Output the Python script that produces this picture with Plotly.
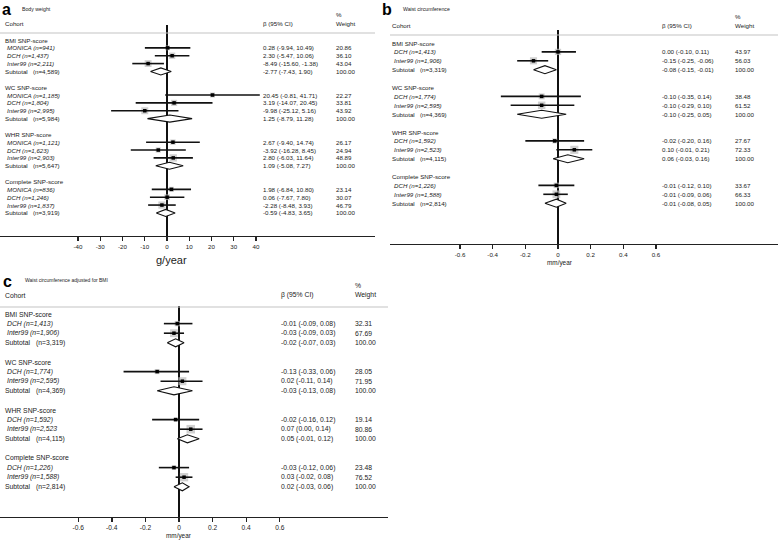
import math
import plotly.graph_objects as go

W, H = 778, 542

# ---------------- data ----------------
groups = ["BMI SNP-score", "WC SNP-score", "WHR SNP-score", "Complete SNP-score"]

# Panel a: Body weight (g/year)
a_cohorts = [["MONICA (n=941)", "DCH (n=1,437)", "Inter99 (n=2,211)"],
             ["MONICA (n=1,185)", "DCH (n=1,804)", "Inter99 (n=2,995)"],
             ["MONICA (n=1,121)", "DCH (n=1,623)", "Inter99 (n=2,903)"],
             ["MONICA (n=836)", "DCH (n=1,246)", "Inter99 (n=1,837)"]]
a_est = [[0.28, 2.30, -8.49], [20.45, 3.19, -9.98], [2.67, -3.92, 2.80], [1.98, 0.06, -2.28]]
a_lo = [[-9.94, -5.47, -15.60], [-0.81, -14.07, -25.12], [-9.40, -16.28, -6.03], [-6.84, -7.67, -8.48]]
a_hi = [[10.49, 10.06, -1.38], [41.71, 20.45, 5.16], [14.74, 8.45, 11.64], [10.80, 7.80, 3.93]]
a_wt = [[20.86, 36.10, 43.04], [22.27, 33.81, 43.92], [26.17, 24.94, 48.89], [23.14, 30.07, 46.79]]
a_sub_n = ["(n=4,589)", "(n=5,984)", "(n=5,647)", "(n=3,919)"]
a_sub_est = [-2.77, 1.25, 1.09, -0.59]
a_sub_lo = [-7.43, -8.79, -5.08, -4.83]
a_sub_hi = [1.90, 11.28, 7.27, 3.65]
a_ticks = [-40, -30, -20, -10, 0, 10, 20, 30, 40]
a_ticktext = ["-40", "-30", "-20", "-10", "0", "10", "20", "30", "40"]

# Panel b: Waist circumference (mm/year)
b_cohorts = [["DCH (n=1,413)", "Inter99 (n=1,906)"],
             ["DCH (n=1,774)", "Inter99 (n=2,595)"],
             ["DCH (n=1,592)", "Inter99 (n=2,523)"],
             ["DCH (n=1,226)", "Inter99 (n=1,588)"]]
b_est = [[0.00, -0.15], [-0.10, -0.10], [-0.02, 0.10], [-0.01, -0.01]]
b_lo = [[-0.10, -0.25], [-0.35, -0.29], [-0.20, -0.01], [-0.12, -0.09]]
b_hi = [[0.11, -0.06], [0.14, 0.10], [0.16, 0.21], [0.10, 0.06]]
b_wt = [[43.97, 56.03], [38.48, 61.52], [27.67, 72.33], [33.67, 66.33]]
b_sub_n = ["(n=3,319)", "(n=4,369)", "(n=4,115)", "(n=2,814)"]
b_sub_est = [-0.08, -0.10, 0.06, -0.01]
b_sub_lo = [-0.15, -0.25, -0.03, -0.08]
b_sub_hi = [-0.01, 0.05, 0.16, 0.05]

# Panel c: Waist circumference adjusted for BMI (mm/year)
c_cohorts = [["DCH (n=1,413)", "Inter99 (n=1,906)"],
             ["DCH (n=1,774)", "Inter99 (n=2,595)"],
             ["DCH (n=1,592)", "Inter99 (n=2,523"],
             ["DCH (n=1,226)", "Inter99 (n=1,588)"]]
c_est = [[-0.01, -0.03], [-0.13, 0.02], [-0.02, 0.07], [-0.03, 0.03]]
c_lo = [[-0.09, -0.09], [-0.33, -0.11], [-0.16, 0.00], [-0.12, -0.02]]
c_hi = [[0.08, 0.03], [0.06, 0.14], [0.12, 0.14], [0.06, 0.08]]
c_wt = [[32.31, 67.69], [28.05, 71.95], [19.14, 80.86], [23.48, 76.52]]
c_sub_n = ["(n=3,319)", "(n=4,369)", "(n=4,115)", "(n=2,814)"]
c_sub_est = [-0.02, -0.03, 0.05, 0.02]
c_sub_lo = [-0.07, -0.13, -0.01, -0.03]
c_sub_hi = [0.03, 0.08, 0.12, 0.06]
mm_ticks = [-0.6, -0.4, -0.2, 0, 0.2, 0.4, 0.6]
mm_ticktext = ["-0.6", "-0.4", "-0.2", "0", "0.2", "0.4", "0.6"]

FONT = "Liberation Sans, Arial, sans-serif"
TXT = "#222222"

fig = go.Figure()
annotations = []
shapes = []


def P(x, y):
    return x / W, 1 - y / H


def add_text(text, x, y, size=7, anchor="left", yref="paper", bold=False, color=TXT):
    if bold:
        text = "<b>" + text + "</b>"
    if yref == "paper":
        xx, yy = P(x, y)
    else:
        xx, yy = x / W, y
    annotations.append(dict(text=text, x=xx, y=yy, xref="paper", yref=yref,
                            xanchor=anchor, yanchor="middle", showarrow=False,
                            borderpad=0, borderwidth=0,
                            font=dict(family=FONT, size=size, color=color)))


def panel(idx, g):
    sfx = "" if idx == 1 else str(idx)
    xname, yname = "x" + sfx, "y" + sfx
    rows_head, rows_c, rows_sub = [], [], []
    r = 0
    for cl in g["cohorts"]:
        rows_head.append(r)
        rows_c.append([r + 1 + k for k in range(len(cl))])
        rows_sub.append(r + len(cl) + 1)
        r += len(cl) + 3

    est = [v for grp in g["est"] for v in grp]
    lo = [v for grp in g["lo"] for v in grp]
    hi = [v for grp in g["hi"] for v in grp]
    wt = [v for grp in g["wt"] for v in grp]
    ry = [v for grp in rows_c for v in grp]

    fig.add_trace(go.Scatter(x=est, y=ry, mode="markers", xaxis=xname, yaxis=yname,
                             marker=dict(symbol="square", color="#bcbcbc",
                                         size=[g["box"] * math.sqrt(w) for w in wt],
                                         line=dict(width=0)),
                             showlegend=False, hoverinfo="skip"))
    lx, ly = [], []
    for l, h, y in zip(lo, hi, ry):
        lx += [l, h, None]
        ly += [y, y, None]
    fig.add_trace(go.Scatter(x=lx, y=ly, mode="lines", xaxis=xname, yaxis=yname,
                             line=dict(color="#111111", width=1.6),
                             showlegend=False, hoverinfo="skip"))
    fig.add_trace(go.Scatter(x=est, y=ry, mode="markers", xaxis=xname, yaxis=yname,
                             marker=dict(symbol="square", color="#000000", size=3.5),
                             showlegend=False, hoverinfo="skip"))
    dx, dy = [], []
    hh = g["dh"]
    for e, l, h, y in zip(g["sub_est"], g["sub_lo"], g["sub_hi"], rows_sub):
        dx += [l, e, h, e, l, None]
        dy += [y, y - hh, y, y + hh, y, None]
    fig.add_trace(go.Scatter(x=dx, y=dy, mode="lines", fill="toself", fillcolor="white",
                             xaxis=xname, yaxis=yname,
                             line=dict(color="#111111", width=1.1),
                             showlegend=False, hoverinfo="skip"))

    x0, x1 = g["xpx"]
    xr = [(x0 - g["zero"]) / g["scale"], (x1 - g["zero"]) / g["scale"]]
    yr = [(g["axis"] - g["row0"]) / g["step"], (g["top"] - g["row0"]) / g["step"]]
    fig.layout["xaxis" + sfx] = dict(
        domain=[x0 / W, x1 / W], range=xr, anchor=yname,
        showgrid=False, zeroline=True, zerolinecolor="#111111", zerolinewidth=1.6,
        showline=True, linecolor="#222222", linewidth=1.4,
        ticks="outside", ticklen=4, tickwidth=1.4, tickcolor="#222222",
        tickvals=g["ticks"], ticktext=g["ticktext"],
        tickfont=dict(family=FONT, size=g["tfs"], color=TXT), fixedrange=True)
    fig.layout["yaxis" + sfx] = dict(
        domain=[1 - g["axis"] / H, 1 - g["top"] / H], range=yr, anchor=xname,
        visible=False, fixedrange=True)

    fs = g["fs"]
    cx = g["cols"]
    for gi, name in enumerate(groups):
        add_text(name, cx[0], rows_head[gi], fs, yref=yname)
        for k, rr in enumerate(rows_c[gi]):
            add_text("<i>" + g["cohorts"][gi][k] + "</i>", cx[0] + 2, rr, fs, yref=yname)
            add_text(f"{g['est'][gi][k]:.2f} ({g['lo'][gi][k]:.2f}, {g['hi'][gi][k]:.2f})",
                     cx[2], rr, fs, yref=yname)
            add_text(f"{g['wt'][gi][k]:.2f}", cx[3], rr, fs, yref=yname)
        rs = rows_sub[gi]
        add_text("Subtotal", cx[0], rs, fs, yref=yname)
        add_text(g["sub_n"][gi], cx[1], rs, fs, yref=yname)
        add_text(f"{g['sub_est'][gi]:.2f} ({g['sub_lo'][gi]:.2f}, {g['sub_hi'][gi]:.2f})",
                 cx[2], rs, fs, yref=yname)
        add_text("100.00", cx[3], rs, fs, yref=yname)

    hy = g["hdr"]
    add_text(g["letter"], g["letter_x"], hy[0] + 1, 16, bold=True, color="#000000")
    add_text(g["title"], g["title_x"], hy[0], g["title_fs"])
    add_text("Cohort", cx[0], hy[2], fs)
    add_text("\u03b2 (95% CI)", cx[2], hy[2], fs)
    add_text("%", cx[3], hy[1], fs)
    add_text("Weight", cx[3], hy[2], fs)
    shapes.append(dict(type="line", xref="paper", yref="paper",
                       x0=x0 / W, x1=x1 / W, y0=1 - hy[3] / H, y1=1 - hy[3] / H,
                       line=dict(color="#c4c4c4", width=1.2)))
    add_text(g["unit"], g["unit_xy"][0], g["unit_xy"][1], g["unit_fs"], anchor="center")


panel(1, dict(cohorts=a_cohorts, est=a_est, lo=a_lo, hi=a_hi, wt=a_wt,
              sub_n=a_sub_n, sub_est=a_sub_est, sub_lo=a_sub_lo, sub_hi=a_sub_hi,
              ticks=a_ticks, ticktext=a_ticktext,
              xpx=(0, 375), zero=167, scale=2.225, top=25, axis=236, row0=40, step=7.86,
              box=1.05, dh=0.45, fs=6.2, tfs=6.2, cols=(5, 33, 263, 336),
              hdr=(9, 15, 24, 33), letter="a", letter_x=2, title="Body weight", title_x=22,
              title_fs=5.2, unit="g/year", unit_xy=(171, 260), unit_fs=11))

panel(2, dict(cohorts=b_cohorts, est=b_est, lo=b_lo, hi=b_hi, wt=b_wt,
              sub_n=b_sub_n, sub_est=b_sub_est, sub_lo=b_sub_lo, sub_hi=b_sub_hi,
              ticks=mm_ticks, ticktext=mm_ticktext,
              xpx=(390, 778), zero=558, scale=163.3, top=30, axis=244, row0=43, step=8.9,
              box=0.95, dh=0.45, fs=6.2, tfs=6.2, cols=(392, 420, 662, 735),
              hdr=(9, 16, 25, 35), letter="b", letter_x=382, title="Waist circumference", title_x=403,
              title_fs=5.2, unit="mm/year", unit_xy=(560, 263), unit_fs=6.4))

panel(3, dict(cohorts=c_cohorts, est=c_est, lo=c_lo, hi=c_hi, wt=c_wt,
              sub_n=c_sub_n, sub_est=c_sub_est, sub_lo=c_sub_lo, sub_hi=c_sub_hi,
              ticks=mm_ticks, ticktext=mm_ticktext,
              xpx=(0, 388), zero=179, scale=168, top=306, axis=517, row0=314, step=9.6,
              box=0.95, dh=0.42, fs=6.8, tfs=6.6, cols=(5, 36, 281, 355),
              hdr=(280, 285, 295, 307), letter="c", letter_x=3, title="Waist circumference adjusted for BMI",
              title_x=25, title_fs=5.0, unit="mm/year", unit_xy=(179, 536), unit_fs=6.4))

fig.update_layout(width=W, height=H, margin=dict(l=0, r=0, t=0, b=0),
                  paper_bgcolor="white", plot_bgcolor="white",
                  annotations=annotations, shapes=shapes, showlegend=False,
                  font=dict(family=FONT, color=TXT))

fig.write_html("out.html",
               config={"displayModeBar": False, "staticPlot": True},
               post_script="document.body.style.margin='0px';"
                           "document.body.style.padding='0px';"
                           "document.body.style.overflow='hidden';")
